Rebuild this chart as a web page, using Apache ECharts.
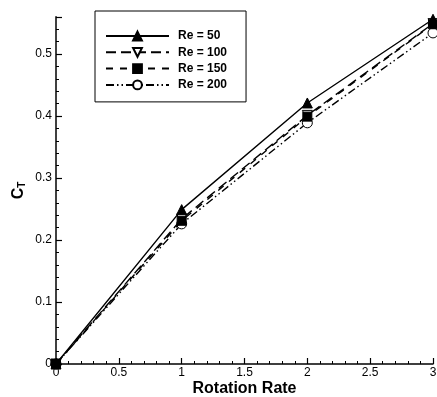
<!DOCTYPE html>
<html>
<head>
<meta charset="utf-8">
<script src="https://cdn.jsdelivr.net/npm/echarts@6/dist/echarts.min.js"></script>
<style>
  html, body { margin: 0; padding: 0; background: #fff; }
  #chart { width: 437px; height: 397px; }
</style>
</head>
<body>
<div id="chart"></div>
<script>
const rotationRate = [0, 1, 2, 3];
const re50 = [0, 0.249, 0.421, 0.556];
const re100 = [0, 0.234, 0.401, 0.549];
const re150 = [0, 0.231, 0.399, 0.548];
const re200 = [0, 0.226, 0.389, 0.534];

const chart = echarts.init(document.getElementById("chart"), null, { renderer: "canvas" });

const pairs = (ys) => rotationRate.map((x, i) => [x, ys[i]]);

const font = "Liberation Sans, Arial, sans-serif";

const makeSeries = (name, ys, symbol, size, fill, dash, rotate, z) => ({
  name,
  type: "line",
  data: pairs(ys),
  symbol,
  symbolSize: size,
  symbolRotate: rotate || 0,
  showAllSymbol: true,
  z: z,
  lineStyle: { color: "#000", width: 1.4, type: dash },
  itemStyle: { color: fill, borderColor: "#000", borderWidth: 1 },
});

const option = {
  animation: false,
  grid: { left: 56, right: 4, top: 16.8, bottom: 33, outerBoundsMode: "none", containLabel: false },
  legend: {
    orient: "vertical",
    left: 95,
    top: 11,
    padding: [19, 19, 11, 10],
    itemWidth: 63,
    itemHeight: 11,
    itemGap: 4.3,
    borderColor: "#000",
    borderWidth: 1,
    textStyle: { fontFamily: font, fontWeight: "bold", fontSize: 12, color: "#000", padding: [0, 0, 0, 4] },
    data: ["Re = 50", "Re = 100", "Re = 150", "Re = 200"],
  },
  xAxis: {
    type: "value",
    min: 0,
    max: 3,
    interval: 0.5,
    name: "Rotation Rate",
    nameLocation: "middle",
    nameGap: 17,
    nameMoveOverlap: false,
    nameTextStyle: { fontFamily: font, fontWeight: "bold", fontSize: 16, color: "#000", verticalAlign: "top" },
    axisLine: { onZero: false, lineStyle: { color: "#000", width: 1.5 } },
    axisTick: { inside: true, length: 6, lineStyle: { color: "#000", width: 1.2 } },
    minorTick: { show: true, splitNumber: 5, length: 3, lineStyle: { color: "#000", width: 1 } },
    axisLabel: { fontFamily: font, fontSize: 12, color: "#000", margin: 3 },
    splitLine: { show: false },
  },
  yAxis: {
    type: "value",
    min: 0,
    max: 0.56,
    interval: 0.1,
    name: "C{sub|T}",
    nameLocation: "middle",
    nameGap: 29,
    nameMoveOverlap: false,
    nameRotate: 90,
    nameTextStyle: {
      fontFamily: font, fontWeight: "bold", fontSize: 16, color: "#000",
      rich: { sub: { fontFamily: font, fontWeight: "bold", fontSize: 10, color: "#000", verticalAlign: "bottom", padding: [7, 0, 0, 0] } },
    },
    axisLine: { onZero: false, lineStyle: { color: "#000", width: 1.5 } },
    axisTick: { inside: true, length: 6, lineStyle: { color: "#000", width: 1.2 } },
    minorTick: { show: true, splitNumber: 5, length: 3, lineStyle: { color: "#000", width: 1 } },
    axisLabel: { fontFamily: font, fontSize: 12, color: "#000", margin: 4, showMaxLabel: false },
    splitLine: { show: false },
  },
  series: [
    makeSeries("Re = 50", re50, "triangle", 10, "#000", "solid", 0, 3),
    makeSeries("Re = 100", re100, "triangle", 10, "#fff", [10, 5], 180, 2),
    makeSeries("Re = 150", re150, "rect", 9, "#000", [7, 7], 0, 4),
    makeSeries("Re = 200", re200, "circle", 10, "#fff", [8, 3, 1.5, 3, 1.5, 3], 0, 1),
  ],
};

chart.setOption(option);
</script>
</body>
</html>
